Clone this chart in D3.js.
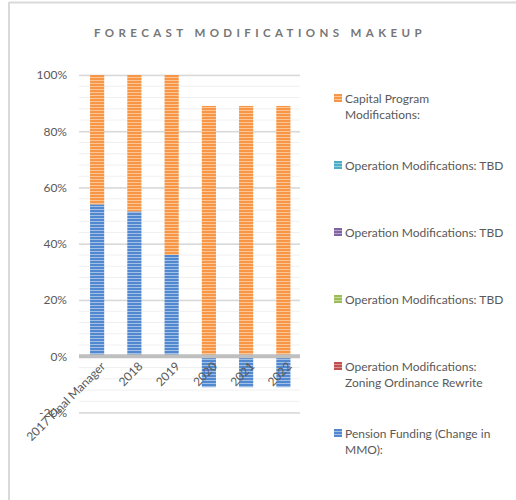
<!DOCTYPE html>
<html lang="en">
<head>
<meta charset="UTF-8">
<title>Forecast Modifications Makeup</title>
<style>
  body { margin: 0; background: #fff; }
  svg { display: block; font-family: Lato, "Open Sans", sans-serif; }
</style>
</head>
<body>
<div id="chart"></div>
<script src="https://d3js.org/d3.v7.min.js"></script>
<script>
// data (percent of total)
const categories = ["2017 Final Manager", "2018", "2019", "2020", "2021", "2022"];
const seriesNames = [
  "Capital Program Modifications:",
  "Operation Modifications: TBD",
  "Operation Modifications: TBD",
  "Operation Modifications: TBD",
  "Operation Modifications: Zoning Ordinance Rewrite",
  "Pension Funding (Change in MMO):"
];
const legendLines = [
  ["Capital Program", "Modifications:"],
  ["Operation Modifications: TBD"],
  ["Operation Modifications: TBD"],
  ["Operation Modifications: TBD"],
  ["Operation Modifications:", "Zoning Ordinance Rewrite"],
  ["Pension Funding (Change in", "MMO):"]
];
const pension = [54, 51.5, 36, -11, -11, -11];
const zoning  = [0, 0, 0, 0, 0, 0];
const opTbdA  = [0, 0, 0, 0, 0, 0];
const opTbdB  = [0, 0, 0, 0, 0, 0];
const opTbdC  = [0, 0, 0, 0, 0, 0];
const capital = [46, 48.5, 64, 89, 89, 89];
const yTicks  = [-20, 0, 20, 40, 60, 80, 100];

const colors = ["#f79646", "#4bacc6", "#8064a2", "#9bbb59", "#c0504d", "#5288cf"];
const stripe = ["#fbc594", "#93d0e0", "#b5a3cc", "#c8dba0", "#dc9290", "#a2c0e6"];

// stacking order from the axis up: pension first, capital on top
const valueArrays = [capital, opTbdA, opTbdB, opTbdC, zoning, pension];
const stackOrder = [5, 4, 3, 2, 1, 0];
const rows = categories.map((c, i) => {
  const r = { cat: c };
  valueArrays.forEach((arr, s) => r["s" + s] = arr[i]);
  return r;
});
const stacked = d3.stack()
  .keys(stackOrder.map(s => "s" + s))
  .offset(d3.stackOffsetDiverging)(rows);

const width = 516, height = 500;
const svg = d3.select("#chart").append("svg")
  .attr("width", width).attr("height", height);

// frame edges
svg.append("line").attr("x1", 9).attr("x2", width).attr("y1", 2.5).attr("y2", 2.5)
  .attr("stroke", "#d9d9d9").attr("stroke-width", 2);
svg.append("line").attr("x1", 9).attr("x2", 9).attr("y1", 2).attr("y2", height)
  .attr("stroke", "#d9d9d9").attr("stroke-width", 2);

// striped fills
const defs = svg.append("defs");
colors.forEach((c, i) => {
  const p = defs.append("pattern").attr("id", "pat" + i)
    .attr("patternUnits", "userSpaceOnUse").attr("width", 4).attr("height", 3);
  p.append("rect").attr("width", 4).attr("height", 3).attr("fill", c);
  p.append("rect").attr("y", 2).attr("width", 4).attr("height", 1).attr("fill", stripe[i]);
});

// title
svg.append("text")
  .attr("x", 260).attr("y", 37)
  .attr("text-anchor", "middle")
  .attr("font-size", 11.5).attr("font-weight", "bold")
  .attr("fill", "#767676")
  .attr("letter-spacing", "4.4px")
  .text("FORECAST MODIFICATIONS MAKEUP");

const x = d3.scaleBand().domain(categories).range([78.5, 302]).paddingInner(0.62).paddingOuter(0.31);
const y = d3.scaleLinear().domain([-20, 100]).range([412.5, 75]);
const plotL = 79, plotR = 300;

// minor gridlines every 4%
svg.append("g").selectAll("line").data(d3.range(-20, 101, 4))
  .join("line")
  .attr("x1", plotL).attr("x2", plotR)
  .attr("y1", d => y(d)).attr("y2", d => y(d))
  .attr("stroke", "#f0f0f0").attr("stroke-width", 1);

// major gridlines
const yAxis = d3.axisLeft(y).tickValues(yTicks).tickFormat(d => d + "%")
  .tickSize(-(plotR - plotL)).tickPadding(12);
const gy = svg.append("g").attr("transform", `translate(${plotL},0)`).call(yAxis);
gy.select(".domain").remove();
gy.selectAll(".tick line").attr("stroke", "#d9d9d9").attr("stroke-width", 1.3);
gy.selectAll(".tick text").attr("fill", "#595959").attr("font-size", 12)
  .attr("font-family", "Lato, sans-serif");

// bars
svg.append("g").selectAll("g").data(stacked).join("g")
  .attr("fill", d => "url(#pat" + d.key.slice(1) + ")")
  .selectAll("rect").data(d => d).join("rect")
  .attr("x", d => x(d.data.cat))
  .attr("width", x.bandwidth())
  .attr("y", d => y(Math.max(d[0], d[1])))
  .attr("height", d => Math.abs(y(d[0]) - y(d[1])));

// zero line
svg.append("line").attr("x1", plotL).attr("x2", plotR)
  .attr("y1", y(0)).attr("y2", y(0))
  .attr("stroke", "#bfbfbf").attr("stroke-width", 4);

// category labels, rotated
const xAxis = d3.axisBottom(x).tickSize(0).tickPadding(0);
const gx = svg.append("g").attr("transform", `translate(0,${y(0)})`).call(xAxis);
gx.select(".domain").remove();
gx.selectAll(".tick text")
  .attr("fill", "#595959").attr("font-size", 12).attr("font-family", "Lato, sans-serif")
  .attr("text-anchor", "end")
  .attr("transform", "translate(3,5) rotate(-45)")
  .attr("dy", "0.7em").attr("y", 0);

// legend
const legend = svg.append("g").selectAll("g").data(seriesNames).join("g")
  .attr("transform", (d, i) => `translate(334,${94 + i * 67})`);
legend.append("rect").attr("width", 8).attr("height", 8)
  .attr("fill", (d, i) => "url(#pat" + i + ")");
legend.append("text")
  .attr("x", 11).attr("y", 8.5)
  .attr("font-size", 12).attr("fill", "#595959")
  .selectAll("tspan").data((d, i) => legendLines[i]).join("tspan")
  .attr("x", 11).attr("dy", (d, j) => j ? 16 : 0)
  .text(d => d);
</script>
</body>
</html>
